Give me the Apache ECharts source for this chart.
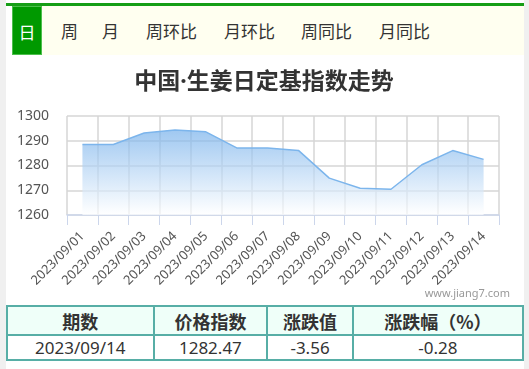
<!DOCTYPE html>
<html>
<head>
<meta charset="utf-8">
<script src="https://cdn.jsdelivr.net/npm/echarts@6/dist/echarts.min.js"></script>
<style>
  html, body { margin:0; padding:0; }
  body { width:529px; height:369px; background:#f0f0f0; position:relative; overflow:hidden;
         font-family:"Noto Sans","Noto Sans CJK SC",sans-serif; }
  #panel { position:absolute; left:6px; top:0; width:518px; height:369px; background:#fff; }
  #topline { position:absolute; left:6px; top:3px; width:518px; height:3px; background:#169e16; }
  #tabs { position:absolute; left:12px; top:6px; width:512px; height:49px; background:#fffff0; }
  .tab { position:absolute; top:0; height:49px; line-height:49px; font-size:17px; color:#333; white-space:nowrap;
         font-family:"Noto Sans CJK SC",sans-serif; }
  .tab.on { left:0; width:30px; background:#009900; color:#fff; text-align:center; box-sizing:border-box; border:1px solid #4cbf4c; }
  #chart { position:absolute; left:0; top:60px; width:529px; height:245px; }
  table { position:absolute; left:6px; top:305px; width:518px; border-collapse:collapse;
          font-family:"Noto Sans","Noto Sans CJK SC",sans-serif; color:#333; }
  td, th { border:2px solid #57aea6; text-align:center; padding:0; }
  th { background:#effff9; height:27px; font-size:18px; font-weight:bold; font-family:"Noto Sans CJK SC",sans-serif; }
  td { height:23px; font-size:17px; }
</style>
</head>
<body>
<div id="panel"></div>
<div id="topline"></div>
<div id="tabs"></div>
<div id="chart"></div>
<table id="tbl"></table>
<script>
var tabLabels = ['日','周','月','周环比','月环比','周同比','月同比'];
var tabLefts = [0, 49, 90, 134, 212, 289, 367];
var chartTitle = '中国·生姜日定基指数走势';
var watermark = 'www.jiang7.com';
var categories = ['2023/09/01','2023/09/02','2023/09/03','2023/09/04','2023/09/05','2023/09/06','2023/09/07',
                  '2023/09/08','2023/09/09','2023/09/10','2023/09/11','2023/09/12','2023/09/13','2023/09/14'];
var values = [1288.5, 1288.5, 1293.1, 1294.3, 1293.6, 1287.1, 1287.1, 1286.1, 1274.9, 1270.8, 1270.4, 1280.3, 1286.03, 1282.47];
var yTicks = [1260, 1270, 1280, 1290, 1300];
var tableHeaders = ['期数','价格指数','涨跌值','涨跌幅（%）'];
var tableRow = ['2023/09/14','1282.47','-3.56','-0.28'];
var colWidths = [147, 114, 86, 171];

var tabs = document.getElementById('tabs');
tabLabels.forEach(function(t, i){
  var d = document.createElement('div');
  d.className = 'tab' + (i === 0 ? ' on' : '');
  d.textContent = t;
  if (i > 0) d.style.left = tabLefts[i] + 'px';
  tabs.appendChild(d);
});

var tbl = document.getElementById('tbl');
var h = '<colgroup>' + colWidths.map(function(w){return '<col style="width:'+w+'px">';}).join('') + '</colgroup>';
h += '<tr>' + tableHeaders.map(function(t){return '<th>'+t+'</th>';}).join('') + '</tr>';
h += '<tr>' + tableRow.map(function(t){return '<td>'+t+'</td>';}).join('') + '</tr>';
tbl.innerHTML = h;

var chart = echarts.init(document.getElementById('chart'), null, {renderer:'canvas'});
chart.setOption({
  animation:false,
  title:{ text: chartTitle, left: 259, top: 6, textAlign:'center',
          textStyle:{ fontSize:23, fontWeight:'bold', color:'#333', fontFamily:'"Noto Sans","Noto Sans CJK SC",sans-serif' } },
  graphic:[{ type:'text', right: 19, top: 228, style:{ text: watermark, fill:'#999', font:'11px "Noto Sans",sans-serif' } }],
  grid:{ left:67, right:30, top:56, height:99 },
  xAxis:{
    type:'category', data:categories, boundaryGap:true,
    axisLine:{ show:true, lineStyle:{ color:'#ccd6eb', width:1.5 } },
    axisTick:{ show:true, length:10, lineStyle:{ color:'#ccd6eb' } },
    axisLabel:{ rotate:45, fontSize:13, color:'#555', margin:19, interval:0, fontFamily:'"Noto Sans",sans-serif' },
    splitLine:{ show:true, lineStyle:{ color:'#d6d6d6', width:1.5 } }
  },
  yAxis:{
    type:'value', min:yTicks[0], max:yTicks[yTicks.length-1], interval:10,
    axisLine:{ show:false }, axisTick:{ show:false },
    axisLabel:{ fontSize:14, color:'#555', margin:18, fontFamily:'"Noto Sans",sans-serif',
                formatter:function(v){ return String(v); } },
    splitLine:{ show:true, lineStyle:{ color:'#d6d6d6', width:1.5 } }
  },
  series:[{
    type:'line', data:values, showSymbol:false, smooth:false,
    lineStyle:{ color:'#7cb5ec', width:1.5 },
    areaStyle:{ color: new echarts.graphic.LinearGradient(0,0,0,1,[
      {offset:0, color:'rgba(118,176,234,1)'},
      {offset:1, color:'rgba(255,255,255,1)'}
    ]) }
  }]
});
</script>
</body>
</html>
